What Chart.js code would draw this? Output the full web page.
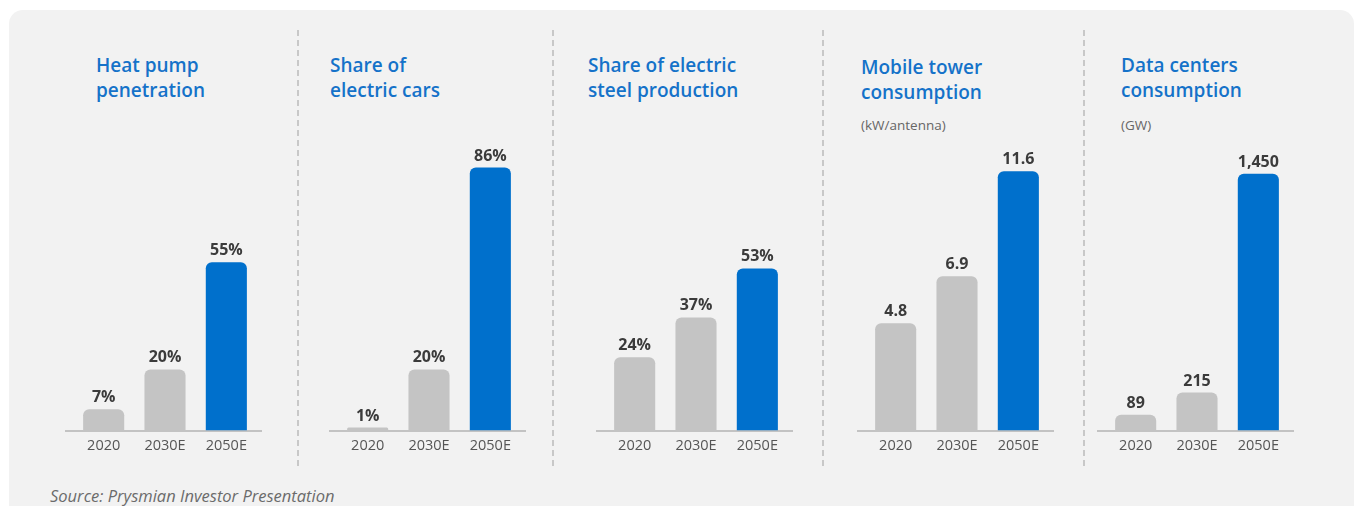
<!DOCTYPE html>
<html>
<head>
<meta charset="utf-8">
<script src="https://cdn.jsdelivr.net/npm/chart.js@4.4.1/dist/chart.umd.min.js"></script>
<style>
    html, body {
        margin: 0;
        padding: 0;
        width: 1355px;
        height: 506px;
        overflow: hidden;
        background: #ffffff;
        font-family: 'Open Sans', Lato, sans-serif;
    }
    .panel {
        position: absolute;
        left: 9px;
        top: 10px;
        width: 1345px;
        height: 530px;
        background: #f2f2f2;
        border-radius: 14px;
    }
    .sep {
        position: absolute;
        top: 30px;
        width: 1.5px;
        height: 436px;
        background: repeating-linear-gradient(to bottom, #c8c8c8 0 6px, transparent 6px 10px);
    }
    .title {
        position: absolute;
        color: #1572c9;
        font-weight: 600;
        font-size: 19px;
        line-height: 25px;
        white-space: nowrap;
    }
    .unit {
        position: absolute;
        color: #666666;
        font-size: 13.5px;
        line-height: 16px;
    }
    .chart {
        position: absolute;
        top: 130px;
    }
    .source {
        position: absolute;
        left: 50px;
        top: 484px;
        font-style: italic;
        font-size: 16.5px;
        color: #6b6b6b;
    }
</style>
</head>
<body>
<div class="panel"></div>

<div class="sep" style="left:297px"></div>
<div class="sep" style="left:552px"></div>
<div class="sep" style="left:822px"></div>
<div class="sep" style="left:1083px"></div>

<div class="title" style="left:96px; top:53px">Heat pump<br>penetration</div>
<div class="title" style="left:330px; top:53px">Share of<br>electric cars</div>
<div class="title" style="left:588px; top:53px">Share of electric<br>steel production</div>
<div class="title" style="left:861px; top:55px">Mobile tower<br>consumption</div>
<div class="unit" style="left:861px; top:117px">(kW/antenna)</div>
<div class="title" style="left:1121px; top:53px">Data centers<br>consumption</div>
<div class="unit" style="left:1121px; top:117px">(GW)</div>

<canvas class="chart" id="heat-pump" width="200" height="332" style="left:65px"></canvas>
<canvas class="chart" id="electric-cars" width="200" height="332" style="left:329px"></canvas>
<canvas class="chart" id="electric-steel" width="200" height="332" style="left:596px"></canvas>
<canvas class="chart" id="mobile-tower" width="200" height="332" style="left:857px"></canvas>
<canvas class="chart" id="data-centers" width="200" height="332" style="left:1097px"></canvas>

<div class="source">Source: Prysmian Investor Presentation</div>

<script>
    'use strict';

    var YEARS = ['2020', '2030E', '2050E'];
    var HEAT_PUMP_SHARE = [7, 20, 55];
    var ELECTRIC_CAR_SHARE = [1, 20, 86];
    var ELECTRIC_STEEL_SHARE = [24, 37, 53];
    var MOBILE_TOWER_KW = [4.8, 6.9, 11.6];
    var DATA_CENTER_GW = [89, 215, 1450];

    var GREY = '#c4c4c4';
    var BLUE = '#0070cc';
    var FONT = "'Open Sans', Lato, sans-serif";

    function percent(v) {
        return v + '%';
    }

    function plain(v) {
        return v.toLocaleString('en-US');
    }

    // axis line under the bars, a bit wider than the plot area
    var baselinePlugin = {
        id: 'baseline',
        beforeDatasetsDraw: function (chart) {
            var ctx = chart.ctx;
            var area = chart.chartArea;
            ctx.save();
            ctx.strokeStyle = '#b3b3b3';
            ctx.lineWidth = 1.5;
            ctx.beginPath();
            ctx.moveTo(area.left - 8, area.bottom + 0.5);
            ctx.lineTo(area.right + 5, area.bottom + 0.5);
            ctx.stroke();
            ctx.restore();
        },
    };

    // value printed above each bar
    var valueLabelPlugin = {
        id: 'valueLabels',
        afterDatasetsDraw: function (chart, args, opts) {
            var ctx = chart.ctx;
            var meta = chart.getDatasetMeta(0);
            var data = chart.data.datasets[0].data;
            ctx.save();
            ctx.font = '700 16px ' + FONT;
            ctx.fillStyle = '#3b3b3b';
            ctx.textAlign = 'center';
            ctx.textBaseline = 'alphabetic';
            meta.data.forEach(function (bar, i) {
                ctx.fillText(opts.format(data[i]), bar.x, bar.y - 7);
            });
            ctx.restore();
        },
    };

    function buildBarConfig(values, yMax, format) {
        return {
            type: 'bar',
            data: {
                labels: YEARS,
                datasets: [
                    {
                        data: values,
                        backgroundColor: [GREY, GREY, BLUE],
                        borderRadius: 6,
                        borderSkipped: 'start',
                        barPercentage: 0.67,
                        categoryPercentage: 1,
                    },
                ],
            },
            options: {
                responsive: false,
                animation: false,
                layout: {
                    padding: { left: 8, right: 8, top: 10, bottom: 0 },
                },
                plugins: {
                    legend: { display: false },
                    tooltip: { enabled: false },
                    valueLabels: { format: format },
                },
                scales: {
                    x: {
                        grid: { display: false, drawTicks: false },
                        border: { display: false },
                        ticks: {
                            color: '#555555',
                            padding: 7,
                            font: { family: FONT, size: 14.5 },
                        },
                    },
                    y: {
                        display: false,
                        min: 0,
                        max: yMax,
                    },
                },
            },
            plugins: [baselinePlugin, valueLabelPlugin],
        };
    }

    function createChart(id, config) {
        var el = document.getElementById(id);
        if (!el || !window.Chart) {
            return null;
        }
        return new Chart(el, config);
    }

    createChart('heat-pump', buildBarConfig(HEAT_PUMP_SHARE, 95, percent));
    createChart('electric-cars', buildBarConfig(ELECTRIC_CAR_SHARE, 95, percent));
    createChart('electric-steel', buildBarConfig(ELECTRIC_STEEL_SHARE, 95, percent));
    createChart('mobile-tower', buildBarConfig(MOBILE_TOWER_KW, 13, plain));
    createChart('data-centers', buildBarConfig(DATA_CENTER_GW, 1640, plain));
</script>
</body>
</html>
